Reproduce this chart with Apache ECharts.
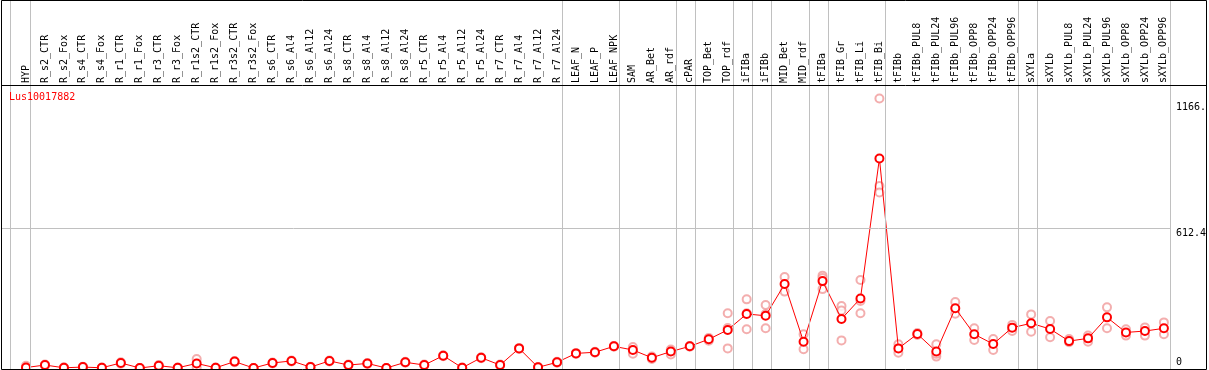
<!DOCTYPE html>
<html>
<head>
<meta charset="utf-8">
<script src="https://cdn.jsdelivr.net/npm/echarts@6/dist/echarts.min.js"></script>
<style>
  html, body { margin: 0; padding: 0; background: #fff; }
  #chart { width: 1209px; height: 370px; }
</style>
</head>
<body>
<div id="chart"></div>
<script>
// samples, left to right
var categories = ['HYP', 'R_s2_CTR', 'R_s2_Fox', 'R_s4_CTR', 'R_s4_Fox', 'R_r1_CTR', 'R_r1_Fox',
  'R_r3_CTR', 'R_r3_Fox', 'R_r1s2_CTR', 'R_r1s2_Fox', 'R_r3s2_CTR', 'R_r3s2_Fox',
  'R_s6_CTR', 'R_s6_Al4', 'R_s6_Al12', 'R_s6_Al24', 'R_s8_CTR', 'R_s8_Al4', 'R_s8_Al12', 'R_s8_Al24',
  'R_r5_CTR', 'R_r5_Al4', 'R_r5_Al12', 'R_r5_Al24', 'R_r7_CTR', 'R_r7_Al4', 'R_r7_Al12', 'R_r7_Al24',
  'LEAF_N', 'LEAF_P', 'LEAF_NPK', 'SAM', 'AR_Bet', 'AR_rdf', 'cPAR', 'TOP_Bet', 'TOP_rdf',
  'iFIBa', 'iFIBb', 'MID_Bet', 'MID_rdf', 'tFIBa', 'tFIB_Gr', 'tFIB_Li', 'tFIB_Bi', 'tFIBb',
  'tFIBb_PUL8', 'tFIBb_PUL24', 'tFIBb_PUL96', 'tFIBb_OPP8', 'tFIBb_OPP24', 'tFIBb_OPP96',
  'sXYLa', 'sXYLb', 'sXYLb_PUL8', 'sXYLb_PUL24', 'sXYLb_PUL96', 'sXYLb_OPP8', 'sXYLb_OPP24', 'sXYLb_OPP96'];

// mean expression
var meanValues = [2, 13, 1, 4, 1, 22, 0, 10, 1, 20, 1, 28, 0,
  22, 31, 4, 31, 13, 20, 0, 25,
  13, 54, 1, 45, 13, 86, 3, 25,
  64, 69, 95, 79, 45, 72, 95, 126, 167,
  237, 229, 368, 115, 381, 215, 305, 919, 86,
  149, 72, 262, 148, 105, 177,
  196, 171, 118, 130, 222, 156, 162, 174];

// replicates (pale circles)
var rep1 = [10, 15, 3, 6, 2, 25, 0, 13, 2, 39, 2, 31, 0,
  24, 33, 6, 33, 15, 22, 0, 27,
  15, 56, 2, 47, 15, 88, 4, 27,
  66, 71, 97, 92, 50, 81, 97, 132, 240,
  301, 276, 399, 148, 405, 272, 386, 1182, 104,
  153, 104, 289, 174, 127, 189,
  235, 206, 127, 142, 266, 170, 178, 200];
var rep2 = [0, 11, 0, 2, 0, 19, 0, 7, 0, 2, 0, 25, 0,
  20, 29, 2, 29, 11, 18, 0, 23,
  11, 52, 0, 43, 11, 84, 1, 23,
  62, 67, 93, 63, 40, 59, 93, 120, 86,
  170, 174, 335, 82, 346, 121, 240, 798, 67,
  145, 50, 238, 123, 79, 162,
  159, 135, 113, 115, 174, 142, 142, 148];
var rep3 = [null, null, null, null, null, null, null, null, null, null, null, null, null,
  null, null, null, null, null, null, null, null,
  null, null, null, null, null, null, null, null,
  null, null, null, null, null, null, null, null, 175,
  240, 237, null, null, 395, 252, 294, 770, null,
  null, 62, null, null, null, null,
  null, null, null, null, null, null, null, null];

// group separators sit just right of these sample indices
var separatorAfter = [-1.05, 0, 28, 31, 34, 35, 37, 38, 39, 41, 42, 45, 52, 53, 60];
var yTicks = [0, 612.4, 1166];

var yMax = 1241;
var step = 19, firstX = 26, W = 1209;
var mono = 'DejaVu Sans Mono';

var replicateData = [];
[rep1, rep2, rep3].forEach(function (rep) {
  rep.forEach(function (v, i) {
    if (v != null) replicateData.push([categories[i], v]);
  });
});

var chart = echarts.init(document.getElementById('chart'));
chart.setOption({
  animation: false,
  title: {
    text: 'Lus10017882',
    left: 9, top: 92, padding: 0,
    textStyle: { color: '#ff0000', fontSize: 10, fontWeight: 'normal', fontFamily: mono }
  },
  graphic: [
    { type: 'rect', silent: true, z: 10,
      shape: { x: 1.5, y: 0.5, width: 1205, height: 369 },
      style: { fill: null, stroke: '#000', lineWidth: 1 } },
    { type: 'line', silent: true, z: 10,
      shape: { x1: 1, y1: 85.5, x2: 1207, y2: 85.5 },
      style: { stroke: '#000', lineWidth: 1 } }
  ],
  grid: [
    { left: firstX, right: W - (firstX + step * 60), top: 85, bottom: 2 },
    { left: 0, right: 0, top: 0, bottom: 1 },
    { left: 0, right: 0, top: 85, bottom: 2 }
  ],
  xAxis: [
    {
      type: 'category', gridIndex: 0, data: categories, position: 'top', boundaryGap: false,
      axisLine: { show: false }, axisTick: { show: false }, splitLine: { show: false },
      axisLabel: { rotate: 90, interval: 0, margin: 2, fontFamily: mono, fontSize: 10, color: '#000' }
    },
    { type: 'value', gridIndex: 1, show: false, min: -firstX / step, max: (W - firstX) / step },
    { type: 'value', gridIndex: 2, show: false, min: -firstX / step, max: (W - firstX) / step }
  ],
  yAxis: [
    {
      type: 'value', gridIndex: 0, position: 'right', min: 0, max: yMax,
      axisLine: { show: false }, axisTick: { show: false }, splitLine: { show: false },
      axisLabel: {
        margin: 12, customValues: yTicks,
        formatter: function (v) {
          if (v === 0) return '{b|0}';
          return '{t|' + (v === 1166 ? '1166.' : v) + '}';
        },
        rich: {
          t: { padding: [10, 0, 0, 0], fontFamily: mono, fontSize: 10, color: '#000' },
          b: { padding: [0, 0, 12, 0], fontFamily: mono, fontSize: 10, color: '#000' }
        }
      }
    },
    { type: 'value', gridIndex: 1, show: false, min: 0, max: 1 },
    { type: 'value', gridIndex: 2, show: false, min: 0, max: yMax }
  ],
  series: [
    {
      type: 'line', xAxisIndex: 1, yAxisIndex: 1, data: [], z: 1,
      markLine: {
        silent: true, symbol: 'none', label: { show: false },
        lineStyle: { color: '#c0c0c0', width: 1, type: 'solid' },
        data: separatorAfter.map(function (k) { return { xAxis: k + 4.5 / step }; })
      }
    },
    {
      type: 'line', xAxisIndex: 2, yAxisIndex: 2, data: [], z: 1,
      markLine: {
        silent: true, symbol: 'none', label: { show: false },
        lineStyle: { color: '#c0c0c0', width: 1, type: 'solid' },
        data: [[{ coord: [-25 / step, yTicks[1]] }, { coord: [1145 / step, yTicks[1]] }]]
      }
    },
    {
      type: 'scatter', xAxisIndex: 0, yAxisIndex: 0, data: replicateData, z: 3,
      symbol: 'emptyCircle', symbolSize: 8,
      itemStyle: { color: '#f09a9a', borderColor: '#f09a9a', borderWidth: 1.5 }
    },
    {
      type: 'line', xAxisIndex: 0, yAxisIndex: 0, data: meanValues, z: 4,
      symbol: 'emptyCircle', symbolSize: 8, showAllSymbol: true,
      lineStyle: { color: '#ff0000', width: 1 },
      itemStyle: { color: '#ff0000', borderColor: '#ff0000', borderWidth: 1.5 }
    }
  ]
});
</script>
</body>
</html>
